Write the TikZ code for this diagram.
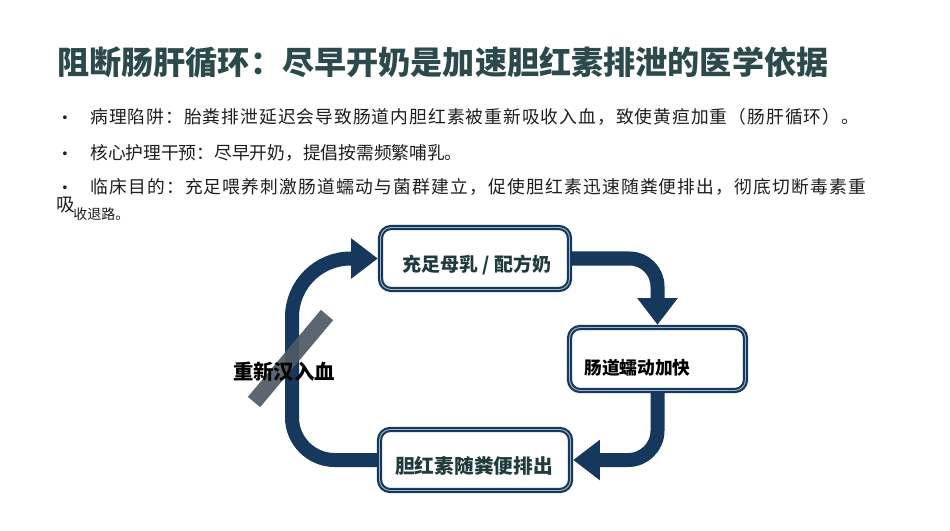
\documentclass[tikz,border=0pt]{standalone}
\usepackage{fontspec}
\setmainfont{Noto Sans CJK SC}
\usetikzlibrary{arrows.meta}
\definecolor{navyc}{HTML}{16385C}
\definecolor{boxin}{HTML}{9FB4C8}
\definecolor{titlec}{HTML}{2C4A4B}
\definecolor{bodyc}{HTML}{1E1E1E}
\definecolor{slashgray}{HTML}{4E5964}
\definecolor{tealtext}{HTML}{1F3B3D}
\begin{document}
\begin{tikzpicture}[x=0.75pt,y=-0.75pt,
  box/.style={draw=navyc, double=boxin, double distance=0.7pt, line width=1.6pt,
    rounded corners=8pt, fill=white, inner sep=0pt, outer sep=2pt},
  flow/.style={draw=navyc, line width=10.5pt, -{Triangle[length=20pt,width=29pt]}},
  boxtext/.style={font=\bfseries\fontsize{#1}{#1}\selectfont, inner sep=0pt},
  body/.style={text=bodyc, font=\fontsize{13.3pt}{16pt}\selectfont, inner sep=0pt, anchor=west,
    text height=0.88em, text depth=0.12em},
  slash/.style={draw=slashgray, line width=12pt, opacity=0.92}]
\fill[white] (0,0) rectangle (950,531);
\useasboundingbox (0,0) rectangle (950,531);

% title
\node[anchor=west, inner sep=0pt, text=titlec, font=\bfseries\fontsize{24.1pt}{28pt}\selectfont] (title) at (57,62) {阻断肠肝循环：尽早开奶是加速胆红素排泄的医学依据};

% bullets
\node[body, anchor=center] (d1) at (65,119) {·};
\node[body] (l1) at (90,118) {\addfontfeature{LetterSpace=5.9}病理陷阱：胎粪排泄延迟会导致肠道内胆红素被重新吸收入血，致使黄疸加重（肠肝循环）。};
\node[body, anchor=center] (d2) at (65,155) {·};
\node[body] (l2) at (90,154) {核心护理干预：尽早开奶，提倡按需频繁哺乳。};
\node[body, anchor=center] (d3) at (65,189) {·};
\node[body] (l3) at (90,188) {\addfontfeature{LetterSpace=6.9}临床目的：充足喂养刺激肠道蠕动与菌群建立，促使胆红素迅速随粪便排出，彻底切断毒素重};
\node[body, font=\fontsize{14pt}{16pt}\selectfont] (l4a) at (56,206) {吸};
\node[body, font=\fontsize{10.5pt}{12pt}\selectfont] (l4b) at (73,214) {收退路。};

% boxes
\node[box, minimum width=141.75pt, minimum height=46.5pt] (b1) at (475,258.5) {};
\node[box, minimum width=132pt, minimum height=47.25pt] (b2) at (657.5,359) {};
\node[box, minimum width=143.25pt, minimum height=45.75pt] (b3) at (475,460) {};

\node[boxtext=14.2pt, text=tealtext] (t1) at (477,265) {充足母乳 / 配方奶};
\node[boxtext=13.3pt, text=black, anchor=west] (t2) at (584,368) {肠道蠕动加快};
\node[boxtext=14.8pt, text=tealtext] (t3) at (474,466) {胆红素随粪便排出};

% flow arrows
\draw[flow, rounded corners=21pt] (b1.east) -| (b2.north);
\draw[flow, rounded corners=22pt] (b2.south) |- (b3.east);
\draw[flow] (b3.west) [rounded corners=32pt] -| (292,360) [rounded corners=44pt] |- (b1.west);

% cross-out slash
\coordinate (s1) at (254,402);
\coordinate (s2) at (327,315);
\draw[slash] (s1) -- (s2);

\node[boxtext=15.3pt, text=black] (rl) at (284,372) {重新汉入血};
\end{tikzpicture}
\end{document}
